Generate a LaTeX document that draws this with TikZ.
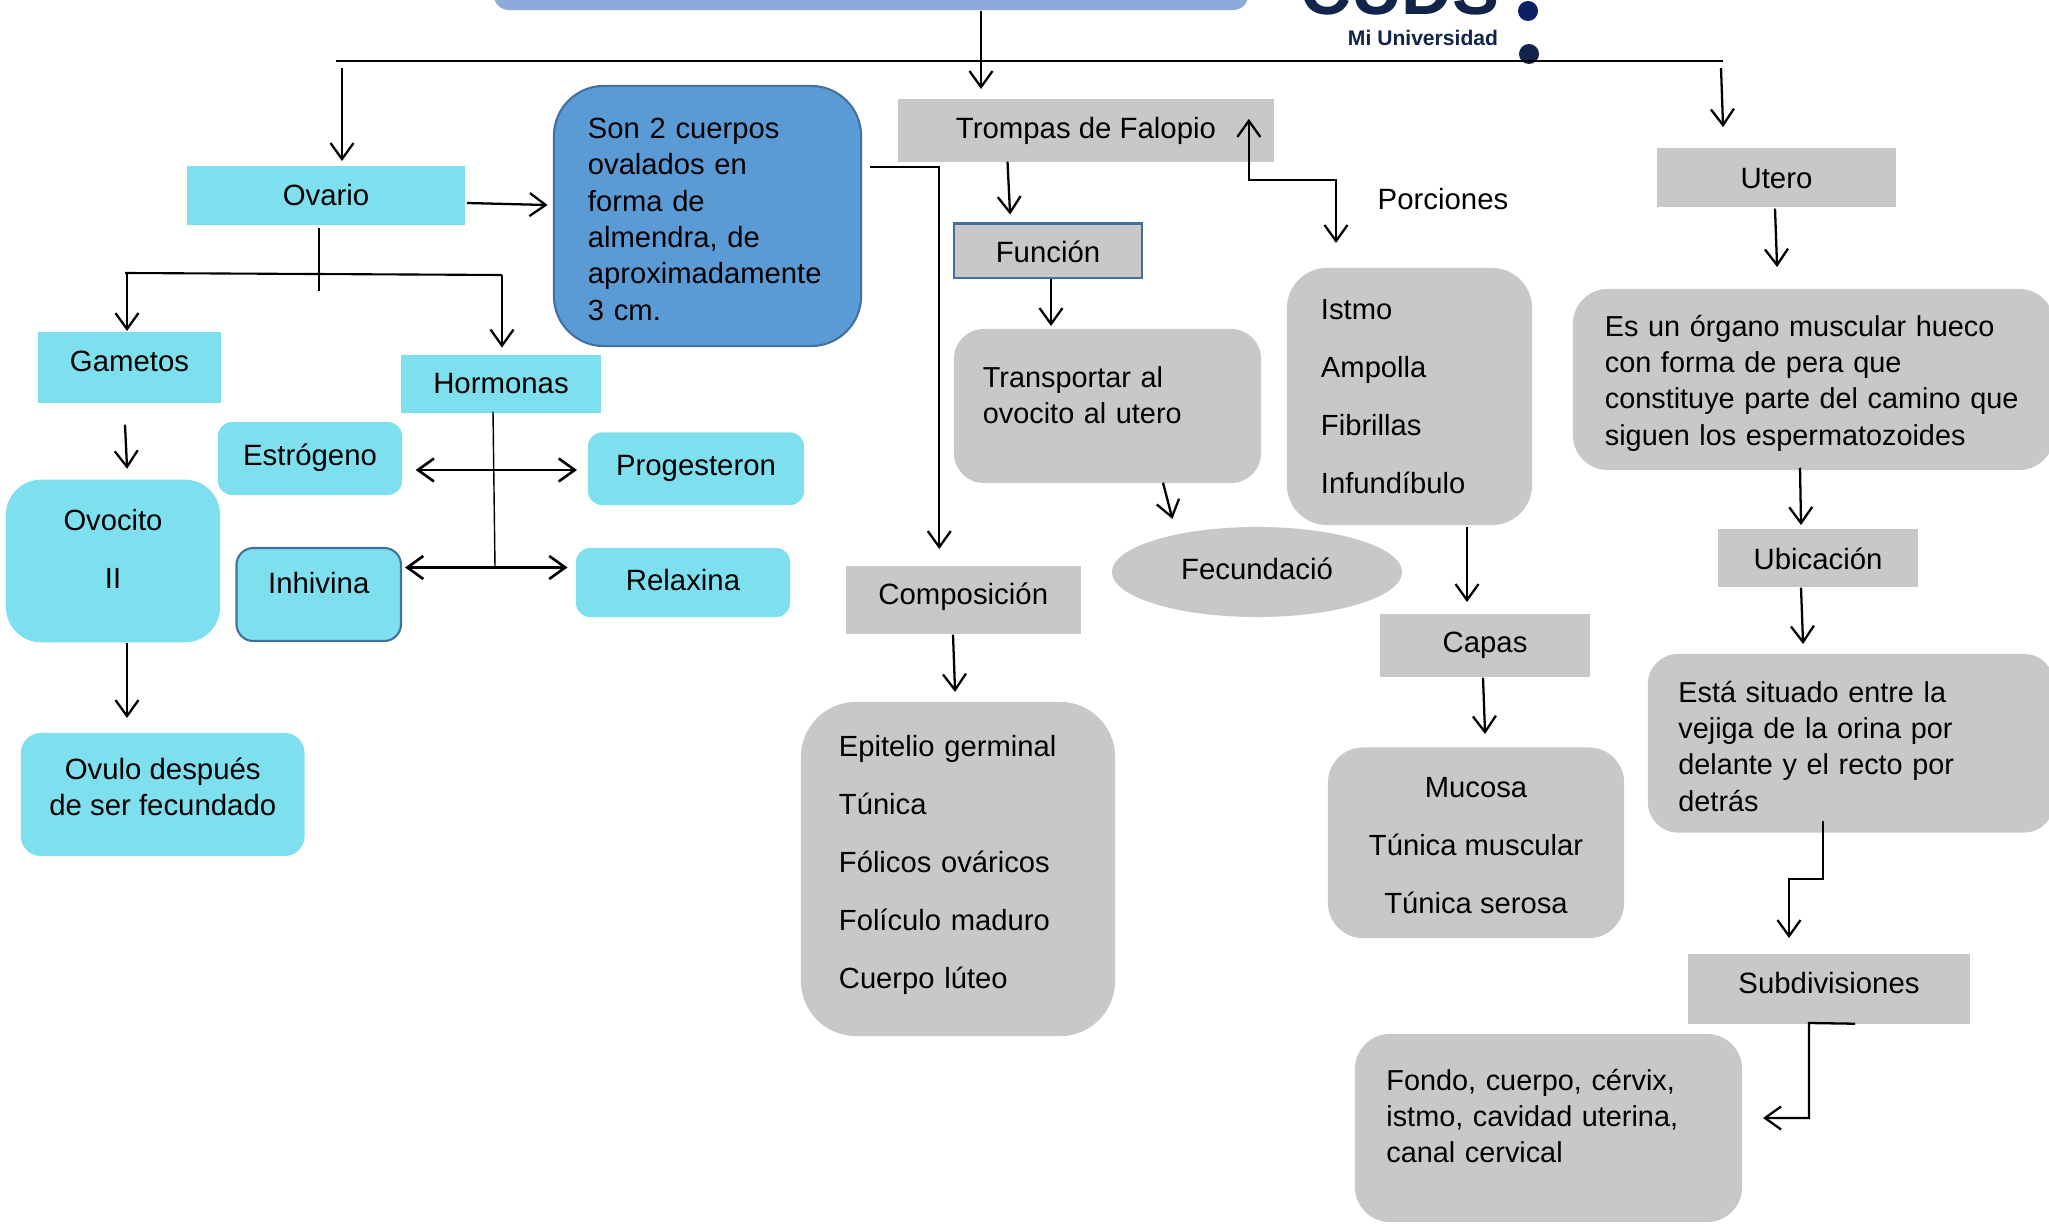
\documentclass[tikz,border=0pt]{standalone}
\usepackage{fontspec}
\setmainfont{Liberation Sans}
\usetikzlibrary{calc,arrows.meta,shapes.geometric}
\definecolor{cian}{HTML}{7EE0EE}
\definecolor{gris}{HTML}{C8C8C8}
\definecolor{azul}{HTML}{5B9BD5}
\definecolor{borde}{HTML}{41719C}
\definecolor{titulo}{HTML}{8EAADB}
\definecolor{marino}{HTML}{12244A}
\newcommand{\sube}[1]{\rule[-#1]{0pt}{#1}}
\newcommand{\baja}[1]{\rule{0pt}{#1}}
\tikzset{
	caja/.style={inner sep=0pt, align=center, font=\fontsize{8.35}{10.33}\selectfont},
	parrafo/.style={caja, font=\fontsize{8.2}{10.33}\selectfont, align=left},
	lista/.style={caja, font=\fontsize{8.3}{16.5}\selectfont},
	cianbox/.style={caja, fill=cian},
	grisbox/.style={caja, fill=gris},
	flecha/.style={draw=black, line width=0.65pt, shorten >=-0.5pt, -{Straight Barb[length=1.6mm, width=2.3mm]}},
	doble/.style={flecha, line width=0.75pt, shorten <=-0.3pt, {Straight Barb[length=1.6mm, width=2.3mm]}-{Straight Barb[length=1.6mm, width=2.3mm]}},
	linea/.style={draw=black, line width=0.6pt}
}

\begin{document}
\begin{tikzpicture}[x=0.01cm, y=-0.01cm]
		%%%%% START %%%%%
		\useasboundingbox (0, 0) rectangle (2049, 1225);
		
		\node[fill=titulo, rounded corners=0.15cm, minimum width=7.54cm, minimum height=0.6cm] (titulo) at (871, -20) {};
		\node[anchor=base, text=marino, font=\bfseries\fontsize{20}{20}\selectfont] (siglas) at (1400, 15) {CUDS};
		\node[text=marino, font=\bfseries\fontsize{6}{7}\selectfont] (lema) at (1423, 38) {Mi Universidad};
		\node[circle, fill=marino!85!blue, minimum size=0.2cm, inner sep=0pt] (puntoa) at (1528, 11) {};
		\node[circle, fill=marino, minimum size=0.2cm, inner sep=0pt] (puntob) at (1529, 54) {};
		
		\coordinate (lineaizq) at (336, 61);
		\coordinate (lineader) at (1723, 61);
		\draw[linea] (lineaizq) -- (lineader);
		
		% ovario
		\node[cianbox, minimum width=2.78cm, minimum height=0.59cm] (ovario) at (326, 195.5) {Ovario};
		\node[parrafo, fill=azul, draw=borde, line width=0.6pt, rounded corners=0.5cm, minimum width=3.07cm, minimum height=2.6cm, text width=2.39cm, font=\fontsize{8.3}{10.33}\selectfont] (son) at (707.5, 216) {\baja{7.6pt}Son 2 cuerpos\\ovalados en\\forma de\\almendra, de\\aproximadamente\\3 cm.};
		\node[cianbox, minimum width=1.83cm, minimum height=0.71cm] (gametos) at (129.5, 367.5) {Gametos\sube{3.3pt}};
		\node[cianbox, minimum width=2cm, minimum height=0.58cm] (hormonas) at (501, 384) {Hormonas};
		\node[cianbox, rounded corners=0.14cm, minimum width=1.84cm, minimum height=0.73cm] (estrogeno) at (310, 458.5) {Estrógeno\sube{2pt}};
		\node[cianbox, rounded corners=0.14cm, minimum width=2.16cm, minimum height=0.725cm] (progesteron) at (696, 468.75) {Progesteron\sube{2pt}};
		\node[lista, fill=cian, rounded corners=0.35cm, minimum width=2.14cm, minimum height=1.625cm] (ovocito) at (113, 561) {Ovocito\\II\sube{6.8pt}};
		\node[cianbox, draw=borde, line width=0.6pt, rounded corners=0.17cm, minimum width=1.645cm, minimum height=0.93cm] (inhivina) at (318.75, 594.5) {Inhivina\sube{6.8pt}};
		\node[cianbox, rounded corners=0.14cm, minimum width=2.14cm, minimum height=0.69cm] (relaxina) at (683, 582.5) {Relaxina\sube{1.4pt}};
		\node[cianbox, rounded corners=0.2cm, minimum width=2.835cm, minimum height=1.23cm] (ovulo) at (162.75, 794.5) {Ovulo después\\de ser fecundado\sube{4.5pt}};
		
		% trompas
		\node[grisbox, minimum width=3.76cm, minimum height=0.63cm] (trompas) at (1086, 130.5) {Trompas de Falopio\sube{1.4pt}};
		\node[grisbox, draw=borde, line width=0.7pt, minimum width=1.88cm, minimum height=0.545cm] (funcion) at (1048, 251) {\baja{6.8pt}Función};
		\node[grisbox, parrafo, rounded corners=0.3cm, minimum width=3.07cm, minimum height=1.54cm, text width=2.49cm] (transporte) at (1107.5, 406) {Transportar al\\ovocito al utero\sube{6.2pt}};
		\node[grisbox, ellipse, minimum width=2.9cm, minimum height=0.9cm] (fecunda) at (1257, 572) {Fecundació\sube{2pt}};
		\node[caja, anchor=west] (porciones) at (1377, 199) {Porciones};
		\node[lista, fill=gris, rounded corners=0.4cm, minimum width=2.45cm, minimum height=2.57cm, text width=1.77cm, align=left] (istmo) at (1409.5, 396.5) {Istmo\\Ampolla\\Fibrillas\\Infundíbulo};
		\node[grisbox, minimum width=2.35cm, minimum height=0.68cm] (composicion) at (963.25, 600) {Composición\sube{3.5pt}};
		\node[lista, fill=gris, rounded corners=0.55cm, minimum width=3.14cm, minimum height=3.34cm, text width=2.38cm, align=left] (epitelio) at (958, 869) {Epitelio germinal\\Túnica\\Fólicos ováricos\\Folículo maduro\\Cuerpo lúteo\sube{4.2pt}};
		\node[grisbox, minimum width=2.1cm, minimum height=0.63cm] (capas) at (1485, 645.5) {Capas\sube{0.8pt}};
		\node[lista, fill=gris, rounded corners=0.35cm, minimum width=2.96cm, minimum height=1.905cm] (mucosa) at (1476, 842.75) {\baja{7.2pt}Mucosa\\Túnica muscular\\Túnica serosa};
		
		% utero
		\node[grisbox, minimum width=2.39cm, minimum height=0.585cm] (utero) at (1776.5, 177.25) {\baja{6.6pt}Utero};
		\node[grisbox, parrafo, rounded corners=0.35cm, minimum width=4.81cm, minimum height=1.81cm, text width=4.17cm] (esun) at (1813.5, 379.5) {\baja{8pt}Es un órgano muscular hueco\\con forma de pera que\\constituye parte del camino que\\siguen los espermatozoides};
		\node[grisbox, minimum width=2cm, minimum height=0.58cm] (ubica) at (1818, 558) {\baja{6.6pt}Ubicación};
		\node[grisbox, parrafo, rounded corners=0.3cm, minimum width=4.06cm, minimum height=1.785cm, text width=3.45cm] (esta) at (1851, 743.25) {\baja{7.7pt}Está situado entre la\\vejiga de la orina por\\delante y el recto por\\detrás};
		\node[grisbox, minimum width=2.82cm, minimum height=0.7cm] (subdiv) at (1829, 989) {Subdivisiones\sube{3.7pt}};
		\node[grisbox, parrafo, rounded corners=0.35cm, minimum width=3.87cm, minimum height=1.88cm, text width=3.24cm] (fondo) at (1548.5, 1128) {Fondo, cuerpo, cérvix,\\istmo, cavidad uterina,\\canal cervical\sube{6.8pt}};
		
		% desde la linea
		\draw[flecha] ($(titulo.south)+(110, 0)$) -- ($(trompas.north)+(-105, -11)$);
		\draw[flecha] ($(lineaizq)+(6, 7)$) -- ($(ovario.north)+(16, -6)$);
		\draw[flecha] ($(lineader)+(-2, 7)$) -- ($(utero.north)+(-53.5, -22)$);
		
		% lado ovario
		\coordinate (ovariopie) at (319, 291);
		\coordinate (ramaizq) at (125, 273);
		\coordinate (ramader) at (502, 275);
		\coordinate (cruce) at (495, 567.5);
		\draw[flecha] ($(ovario.east)+(1, 7.5)$) -- ($(son.west)+(-7, -11)$);
		\draw[linea] ($(ovario.south)+(-7, 2)$) -- (ovariopie);
		\draw[linea] (ramaizq) -- (ramader);
		\draw[flecha] ($(gametos.north)+(-2.5, -57)$) -- ($(gametos.north)+(-2.5, -2)$);
		\draw[flecha] (ramader) -- ($(hormonas.north)+(1, -8.5)$);
		\draw[flecha] ($(gametos.south)+(-4.5, 21)$) -- ($(ovocito.north)+(14, -12)$);
		\draw[flecha] ($(ovocito.south)+(14, 0)$) -- ($(ovulo.north)+(-35.75, -16)$);
		\draw[linea, line width=0.4pt] ($(hormonas.south)+(-8, -2)$) -- (cruce);
		\draw[doble] ($(estrogeno.east)+(14, 11.5)$) -- ($(progesteron.west)+(-12, 1.25)$);
		\draw[doble] ($(inhivina.east)+(4, -27)$) -- ($(relaxina.west)+(-9.5, -15)$);
		
		% lado trompas
		\coordinate (codoporcion) at (1336, 180);
		\draw[flecha] ($(son.east)+(8, -49)$) -| ($(composicion.north)+(-24, -18)$);
		\draw[flecha] ($(composicion.south)+(-10.25, 0)$) -- ($(epitelio.north)+(-3, -11)$);
		\draw[flecha] ($(trompas.south)+(-78.5, -1)$) -- ($(funcion.north)+(-38, -9.75)$);
		\draw[flecha] ($(funcion.south)+(3, 0)$) -- ($(transporte.north)+(-56.5, -4)$);
		\draw[flecha] ($(transporte.south)+(55.5, -1)$) -- ($(fecunda.north)+(-85, -9)$);
		\draw[doble, line width=0.65pt] ($(trompas.east)+(-26, -10.5)$) |- (codoporcion) -- ($(istmo.north)+(-73.5, -26)$);
		\draw[flecha] ($(istmo.south)+(57.5, 1)$) -- ($(capas.north)+(-18, -13)$);
		\draw[flecha] ($(capas.south)+(-2, 0)$) -- ($(mucosa.north)+(9, -14.5)$);
		
		% lado utero
		\coordinate (escalon) at (1789, 879);
		\coordinate (esquina) at (1809, 1023);
		\draw[flecha] ($(utero.south)+(-1.5, 1.5)$) -- ($(esun.north)+(-36.5, -23)$);
		\draw[flecha] ($(esun.south)+(-13.5, -3)$) -- ($(ubica.north)+(-17, -5)$);
		\draw[flecha] ($(ubica.south)+(-17, 0)$) -- ($(esta.north)+(-48, -11)$);
		\draw[flecha] ($(esta.south)+(-28, -12)$) |- (escalon) -- ($(subdiv.north)+(-40, -17)$);
		\draw[flecha] ($(subdiv.south)+(26, -1)$) -- (esquina) |- ($(fondo.east)+(22, -10)$);
		
		%%%%% END %%%%%
	\end{tikzpicture}
\end{document}
